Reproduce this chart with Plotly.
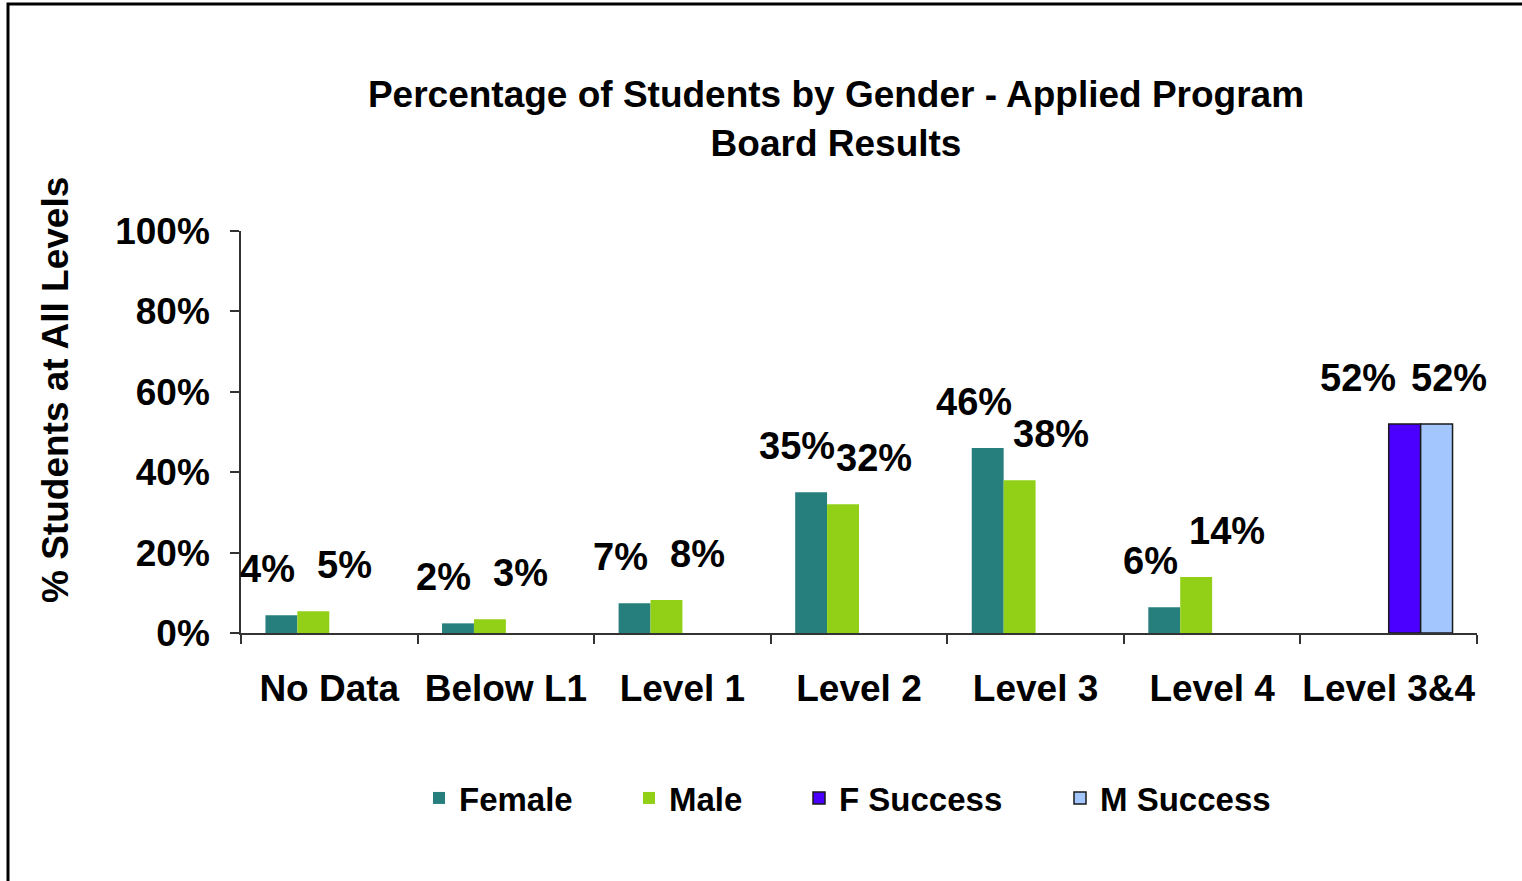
import plotly.graph_objects as go

# data
categories = ["No Data", "Below L1", "Level 1", "Level 2", "Level 3", "Level 4", "Level 3&4"]
female = [0.044, 0.024, 0.074, 0.35, 0.46, 0.064, None]
male = [0.054, 0.034, 0.082, 0.32, 0.38, 0.139, None]
f_success = [None, None, None, None, None, None, 0.52]
m_success = [None, None, None, None, None, None, 0.52]

y_ticks = [0, 0.2, 0.4, 0.6, 0.8, 1.0]

FONT = "Liberation Sans, Arial, sans-serif"
W, H = 1522, 881
PLOT_L, PLOT_W, PLOT_B, PLOT_H = 241, 1236, 633, 402


def px_x(px):
    return (px - PLOT_L) / PLOT_W


def px_y(py):
    return (PLOT_B - py) / PLOT_H


series = [
    # name, values, colour, outline, label x offset, legend text start (px)
    ("Female", female, "#267F7D", None, -62, 460),
    ("Male", male, "#92D018", None, 15, 670),
    ("F Success", f_success, "#4B00FF", "#1a1a1a", -31, 840),
    ("M Success", m_success, "#A3C6FF", "#1a1a1a", 60, 1101),
]

fig = go.Figure()
annotations = []
legends = {}
for i, (name, vals, color, outline, xoff, leg_x) in enumerate(series):
    leg_id = "legend" if i == 0 else f"legend{i + 1}"
    fig.add_trace(
        go.Bar(
            name=name,
            x=categories,
            y=vals,
            marker_color=color,
            marker_line={"color": outline or color, "width": 1.5 if outline else 0},
            legend=leg_id,
            showlegend=True,
        )
    )
    legends[leg_id] = {
        "visible": True,
        "x": px_x(leg_x - 41), "xanchor": "left",
        "y": px_y(798), "yanchor": "middle",
        "font": {"size": 33, "family": FONT, "weight": "bold"},
        "itemwidth": 30,
        "bgcolor": "rgba(0,0,0,0)",
    }
    for cat, v in zip(categories, vals):
        if v is None:
            continue
        annotations.append({
            "x": cat, "y": v, "xref": "x", "yref": "y",
            "text": f"{round(v * 100):.0f}%",
            "showarrow": False,
            "xanchor": "center", "yanchor": "bottom",
            "xshift": xoff, "yshift": 23,
            "font": {"size": 38, "color": "black", "family": FONT, "weight": "bold"},
        })

# y axis title, placed as in the reference (above the plot's mid-height)
annotations.append({
    "text": "% Students at All Levels",
    "xref": "paper", "yref": "paper",
    "x": px_x(55), "y": px_y(390),
    "xanchor": "center", "yanchor": "middle",
    "textangle": -90,
    "showarrow": False,
    "font": {"size": 37, "color": "black", "family": FONT, "weight": "bold"},
})

fig.update_layout(
    width=W,
    height=H,
    margin={"l": PLOT_L, "r": W - PLOT_L - PLOT_W, "t": PLOT_B - PLOT_H,
            "b": H - PLOT_B, "autoexpand": False},
    paper_bgcolor="white",
    plot_bgcolor="white",
    showlegend=True,
    font={"family": FONT, "size": 37, "color": "black", "weight": "bold"},
    barmode="group",
    bargap=0.277,
    bargroupgap=0,
    title={
        "text": "Percentage of Students by Gender - Applied Program<br>Board Results",
        "x": 836 / W, "xanchor": "center",
        "y": 0.878, "yanchor": "top",
        "font": {"size": 37, "family": FONT, "weight": "bold"},
    },
    xaxis={
        "range": [-0.5, len(categories) - 0.5],
        "showline": True, "linecolor": "#333", "linewidth": 1.5,
        "ticks": "outside", "tickson": "boundaries", "ticklen": 9,
        "tickcolor": "#333", "tickwidth": 1.5,
        "tickangle": 0,
        "ticklabelstandoff": 22,
        "showgrid": False,
        "tickfont": {"size": 37},
    },
    yaxis={
        "range": [0, 1],
        "tickvals": y_ticks,
        "tickformat": ".0%",
        "showline": True, "linecolor": "#333", "linewidth": 1.5,
        "ticks": "outside", "ticklen": 9, "tickcolor": "#333", "tickwidth": 1.5,
        "ticklabelstandoff": 13,
        "showgrid": False, "zeroline": False,
        "tickfont": {"size": 37},
    },
    annotations=annotations,
    shapes=[{
        "type": "rect", "xref": "paper", "yref": "paper",
        "x0": px_x(8), "x1": 1.2,
        "y0": -1.0, "y1": px_y(4),
        "line": {"color": "black", "width": 3},
        "fillcolor": "rgba(0,0,0,0)",
        "layer": "below",
    }],
    **legends,
)

# drop the default body margin so the figure sits at the page's top-left corner
fig.write_html(
    "out.html",
    config={"displayModeBar": False},
    post_script="document.body.style.margin = '0';",
)
